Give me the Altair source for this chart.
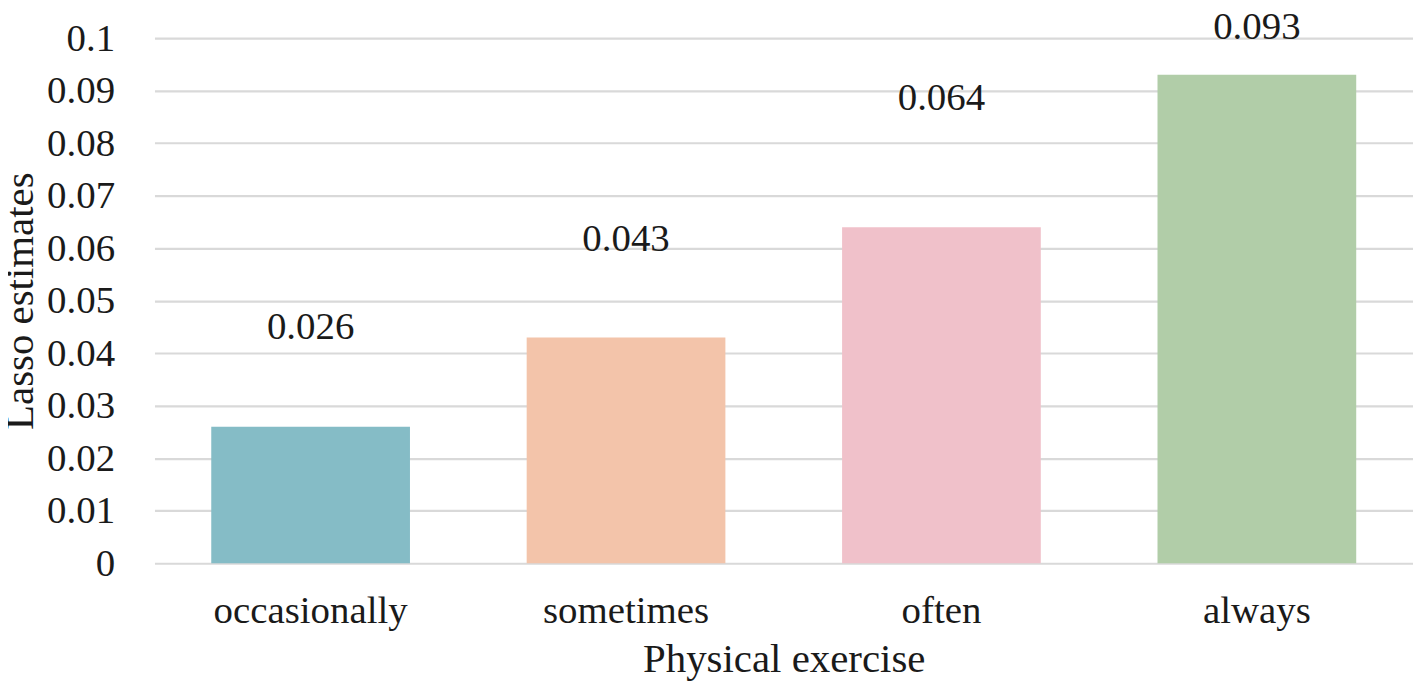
import altair as alt
import pandas as pd

categories = ["occasionally", "sometimes", "often", "always"]
values = [0.026, 0.043, 0.064, 0.093]
labels = ["0.026", "0.043", "0.064", "0.093"]
label_pos = [0.0450, 0.0617, 0.0886, 0.1022]
colors = ["#85BCC6", "#F3C4AA", "#F0C1CA", "#B1CDA8"]
y_ticks = [0, 0.01, 0.02, 0.03, 0.04, 0.05, 0.06, 0.07, 0.08, 0.09, 0.1]

df = pd.DataFrame({"cat": categories, "val": values, "lab": labels, "pos": label_pos})

FONT = "Liberation Serif"
INK = "#1a1a1a"

x = alt.X("cat:N", sort=categories, title="Physical exercise",
          scale=alt.Scale(paddingInner=0.37, paddingOuter=0.18),
          axis=alt.Axis(labelAngle=0, ticks=False, domain=False, labelPadding=28, labelLimit=0,
                        labelFontSize=39, titleFontSize=41, labelFont=FONT, titleFont=FONT,
                        labelColor=INK, titleColor=INK, titleFontWeight="normal",
                        titlePadding=10))

bars = alt.Chart(df).mark_bar().encode(
    x=x,
    y=alt.Y("val:Q", title="Lasso estimates",
            scale=alt.Scale(domain=[0, 0.1], nice=False),
            axis=alt.Axis(values=y_ticks, labelExpr="format(datum.value, '~g')",
                          ticks=False, domain=False, labelPadding=40,
                          gridColor="#D9D9D9", gridWidth=2.2,
                          labelFontSize=39, titleFontSize=41, labelFont=FONT, titleFont=FONT,
                          labelColor=INK, titleColor=INK, titleFontWeight="normal",
                          titlePadding=5)),
    color=alt.Color("cat:N", sort=categories,
                    scale=alt.Scale(domain=categories, range=colors), legend=None),
)

text = alt.Chart(df).mark_text(font=FONT, fontSize=39, color=INK, baseline="middle").encode(
    x=alt.X("cat:N", sort=categories),
    y=alt.Y("pos:Q"),
    text="lab:N",
)

chart = (bars + text).properties(
    width=1263, height=527,
    autosize=alt.AutoSizeParams(type="none"),
    padding={"left": 147, "top": 29, "right": 0, "bottom": 120},
).configure_view(stroke=None)

chart.save("out.html", embed_options={"renderer": "svg", "actions": False})
